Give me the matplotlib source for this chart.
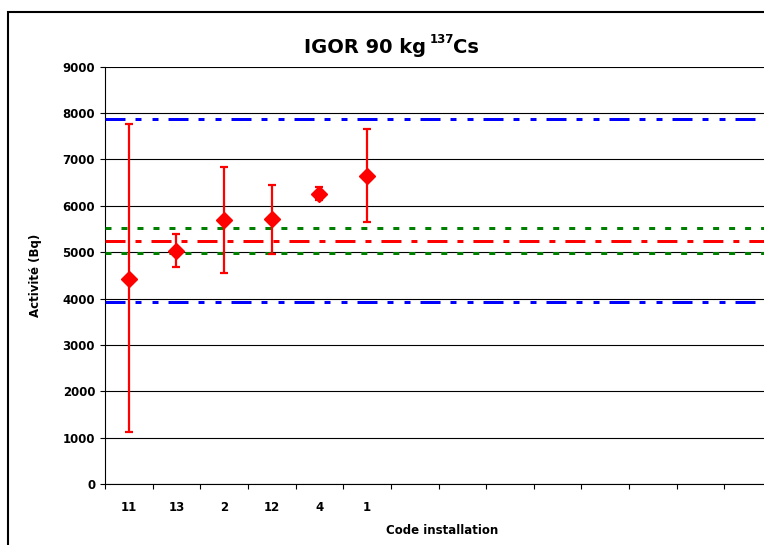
import matplotlib.pyplot as plt
from matplotlib.patches import Rectangle

# données
codes = ['11', '13', '2', '12', '4', '1']
activite = [4425, 5030, 5690, 5705, 6260, 6650]
bas = [1115, 4690, 4550, 4960, 6135, 5660]
haut = [7760, 5395, 6830, 6445, 6395, 7660]
n_cases = 14  # nombre de catégories sur l'axe (vides au-delà de 6)

valeur_ref = 5250
limites_vertes = [5515, 4990]
limites_bleues = [7880, 3935]

fig = plt.figure(figsize=(7.64, 5.45), dpi=100)
ax = fig.add_axes([105 / 764, 1 - 484 / 545, 667 / 764, (484 - 66.7) / 545])

# cadre du graphique (coupé à droite et en bas)
fig.add_artist(Rectangle((8 / 764, -0.1), 1.2, 1 - 12.5 / 545 + 0.1,
                         transform=fig.transFigure, fill=False,
                         edgecolor='black', lw=1.5, clip_on=False))

# lignes de référence (épaisseur 3 px, motifs en unités d'épaisseur)
lw = 2.16
for y in limites_bleues:
    ax.axhline(y, color='#0000FF', lw=lw,
               linestyle=(0, (6.67, 3.33, 2, 3.67, 2, 3.33)), zorder=3)
for y in limites_vertes:
    ax.axhline(y, color='#008000', lw=lw,
               linestyle=(0, (2, 3.33)), zorder=3)
ax.axhline(valeur_ref, color='#FF0000', lw=lw,
           linestyle=(0, (6.67, 3.33, 2, 3.33)), zorder=3)

# points avec barres d'incertitude
x = [i + 0.5 for i in range(len(codes))]
err_bas = [a - b for a, b in zip(activite, bas)]
err_haut = [h - a for a, h in zip(activite, haut)]
ax.errorbar(x, activite, yerr=[err_bas, err_haut], fmt='D', color='#FF0000',
            ms=8, elinewidth=1.6, capsize=2.6, capthick=1.6, zorder=5)

ax.set_xlim(0, n_cases)
ax.set_ylim(0, 9000)
ax.set_yticks(range(0, 9001, 1000))
ax.yaxis.grid(True, color='black', lw=0.8)
ax.set_axisbelow(True)

ax.set_xticks(range(n_cases + 1))
ax.set_xticklabels([])
ax.set_xticks(x, minor=True)
ax.set_xticklabels(codes, minor=True, fontsize=8.5, fontweight='bold')
ax.tick_params(axis='x', which='minor', length=0, pad=12.5)
ax.tick_params(axis='x', which='major', length=3.5, width=0.8)
ax.tick_params(axis='y', length=3.6, width=0.8, pad=3.5, labelsize=8.5)
for lab in ax.get_yticklabels():
    lab.set_fontweight('bold')

for s in ['top', 'right']:
    ax.spines[s].set_visible(False)
for s in ['left', 'bottom']:
    ax.spines[s].set_linewidth(0.8)

# titre avec exposant plus petit
fig.text(426 / 764, 1 - 47 / 545, 'IGOR 90 kg', ha='right', va='center',
         fontsize=14, fontweight='bold')
fig.text(430 / 764, 1 - 39 / 545, '137', ha='left', va='center',
         fontsize=8.5, fontweight='bold')
fig.text(453 / 764, 1 - 47 / 545, 'Cs', ha='left', va='center',
         fontsize=14, fontweight='bold')
fig.text(442 / 764, 1 - 530 / 545, 'Code installation',
         ha='center', va='center', fontsize=8.5, fontweight='bold')
fig.text(35 / 764, 1 - 275 / 545, 'Activité (Bq)', rotation=90,
         ha='center', va='center', fontsize=8.5, fontweight='bold')

plt.savefig('out.png', dpi=100)
